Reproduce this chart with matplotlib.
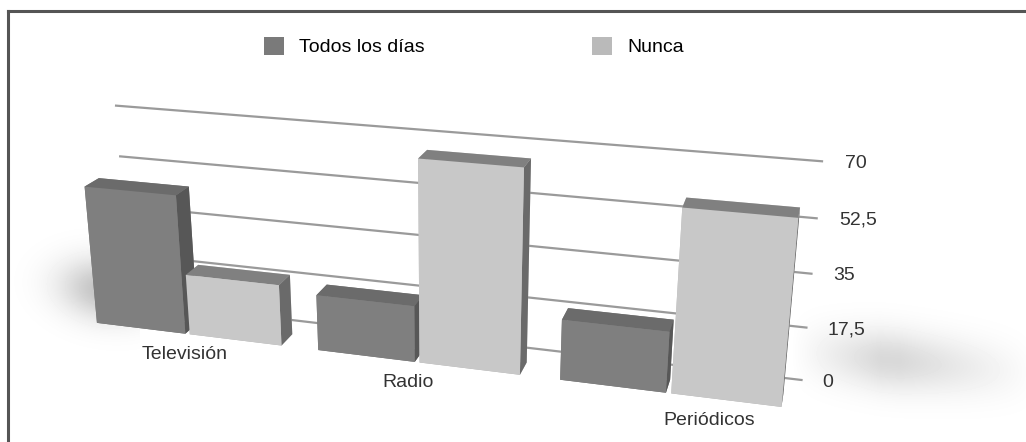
import matplotlib
matplotlib.use("Agg")
import matplotlib.pyplot as plt
import numpy as np
from matplotlib.patches import Patch

plt.rcParams['font.family'] = ['Liberation Sans', 'DejaVu Sans']

categorias = ["Televisión", "Radio", "Periódicos"]
series = ["Todos los días", "Nunca"]
todos_los_dias = [48, 19, 20]
nunca = [21, 67, 59]
ticks = [0, 17.5, 35, 52.5, 70]
tick_labels = ["0", "17,5", "35", "52,5", "70"]

# face colours in bar3d order: bottom, top, front, back, left, right
oscuro = ["#6f6f6f", "#6b6b6b", "#7f7f7f", "#7f7f7f", "#7a7a7a", "#575757"]
claro = ["#b0b0b0", "#808080", "#c8c8c8", "#c8c8c8", "#bdbdbd", "#6a6a6a"]

fig = plt.figure(figsize=(10.26, 4.42), dpi=100)

# soft floor shadow behind the bars
fondo_ax = fig.add_axes([0, 0, 1, 1], zorder=0)
px, py = np.meshgrid(np.arange(1026), np.arange(442))
centro = 285 + 0.09 * (px - 60)
banda = np.exp(-((py - centro) / 30.0) ** 2)
izq = 1.2 * np.exp(-((px - 105) / 45.0) ** 2) * (px < 140)
der = 0.75 * np.clip((px - 790) / 90.0, 0, 1) * np.clip((1040 - px) / 140.0, 0, 1)
sombra = 1 - 0.2 * banda * (izq + der)
fondo_ax.imshow(sombra, cmap="gray", vmin=0, vmax=1, aspect="auto",
                extent=(0, 1026, 442, 0), interpolation="bilinear")
fondo_ax.set_xlim(0, 1026)
fondo_ax.set_ylim(442, 0)
fondo_ax.set_axis_off()

ax = fig.add_axes([-0.174, -0.3, 1.2, 1.5], projection='3d', computed_zorder=False,
                  zorder=1)
ax.patch.set_alpha(0)
ax.set_proj_type('persp', focal_length=0.4)
ax.view_init(elev=20, azim=-74)

ancho, fondo = 0.41, 0.12
xs, ys, zs, dxs, dys, dzs, colores = [], [], [], [], [], [], []
for i in range(len(categorias)):
    for desplazamiento, valores, cols in ((-0.43, todos_los_dias, oscuro),
                                          (0.0, nunca, claro)):
        xs.append(i + desplazamiento)
        ys.append(0)
        zs.append(0)
        dxs.append(ancho)
        dys.append(fondo)
        dzs.append(valores[i])
        colores.extend(cols)

# gridlines on the back wall
x0, x1, pared = -0.4, 2.47, 0.26
for t in ticks:
    ax.plot([x0, x1], [pared, pared], [t, t], color="#9a9a9a", lw=1.6,
            zorder=1, clip_on=False)

barras = ax.bar3d(xs, ys, zs, dxs, dys, dzs, color=colores, shade=False,
                  edgecolor="none", zorder=2)
barras.set_clip_on(False)

for t, lab in zip(ticks, tick_labels):
    ax.text(x1 + 0.08, pared, t, lab, fontsize=14, color="#333333",
            ha="left", va="center", zorder=3)

desfase_etiquetas = [-0.03, -0.05, 0.15]
for i, cat in enumerate(categorias):
    ax.text(i + desfase_etiquetas[i], 0, -7.5, cat, fontsize=14, color="#333333",
            ha="center", va="center", zorder=3)

ax.set_xlim(-0.55, 2.6)
ax.set_ylim(0, 0.6)
ax.set_zlim(0, 70)
ax.set_box_aspect((3.2, 0.6, 0.9), zoom=1.2)
ax.set_axis_off()

handles = [Patch(facecolor="#7a7a7a", edgecolor="none"),
           Patch(facecolor="#bababa", edgecolor="none")]
fig.legend(handles, series, loc="center", bbox_to_anchor=(0.462, 0.895),
           ncol=2, frameon=False, fontsize=14, columnspacing=8.6,
           handlelength=1.03, handleheight=1.05, handletextpad=0.77)

# frame around the chart
fig.add_artist(plt.Line2D([0.008, 1.0], [0.975, 0.975], color="#555555", lw=2.2,
                          transform=fig.transFigure))
fig.add_artist(plt.Line2D([0.008, 0.008], [0.0, 0.975], color="#555555", lw=2.2,
                          transform=fig.transFigure))

fig.savefig("out.png", dpi=100, facecolor="white")
